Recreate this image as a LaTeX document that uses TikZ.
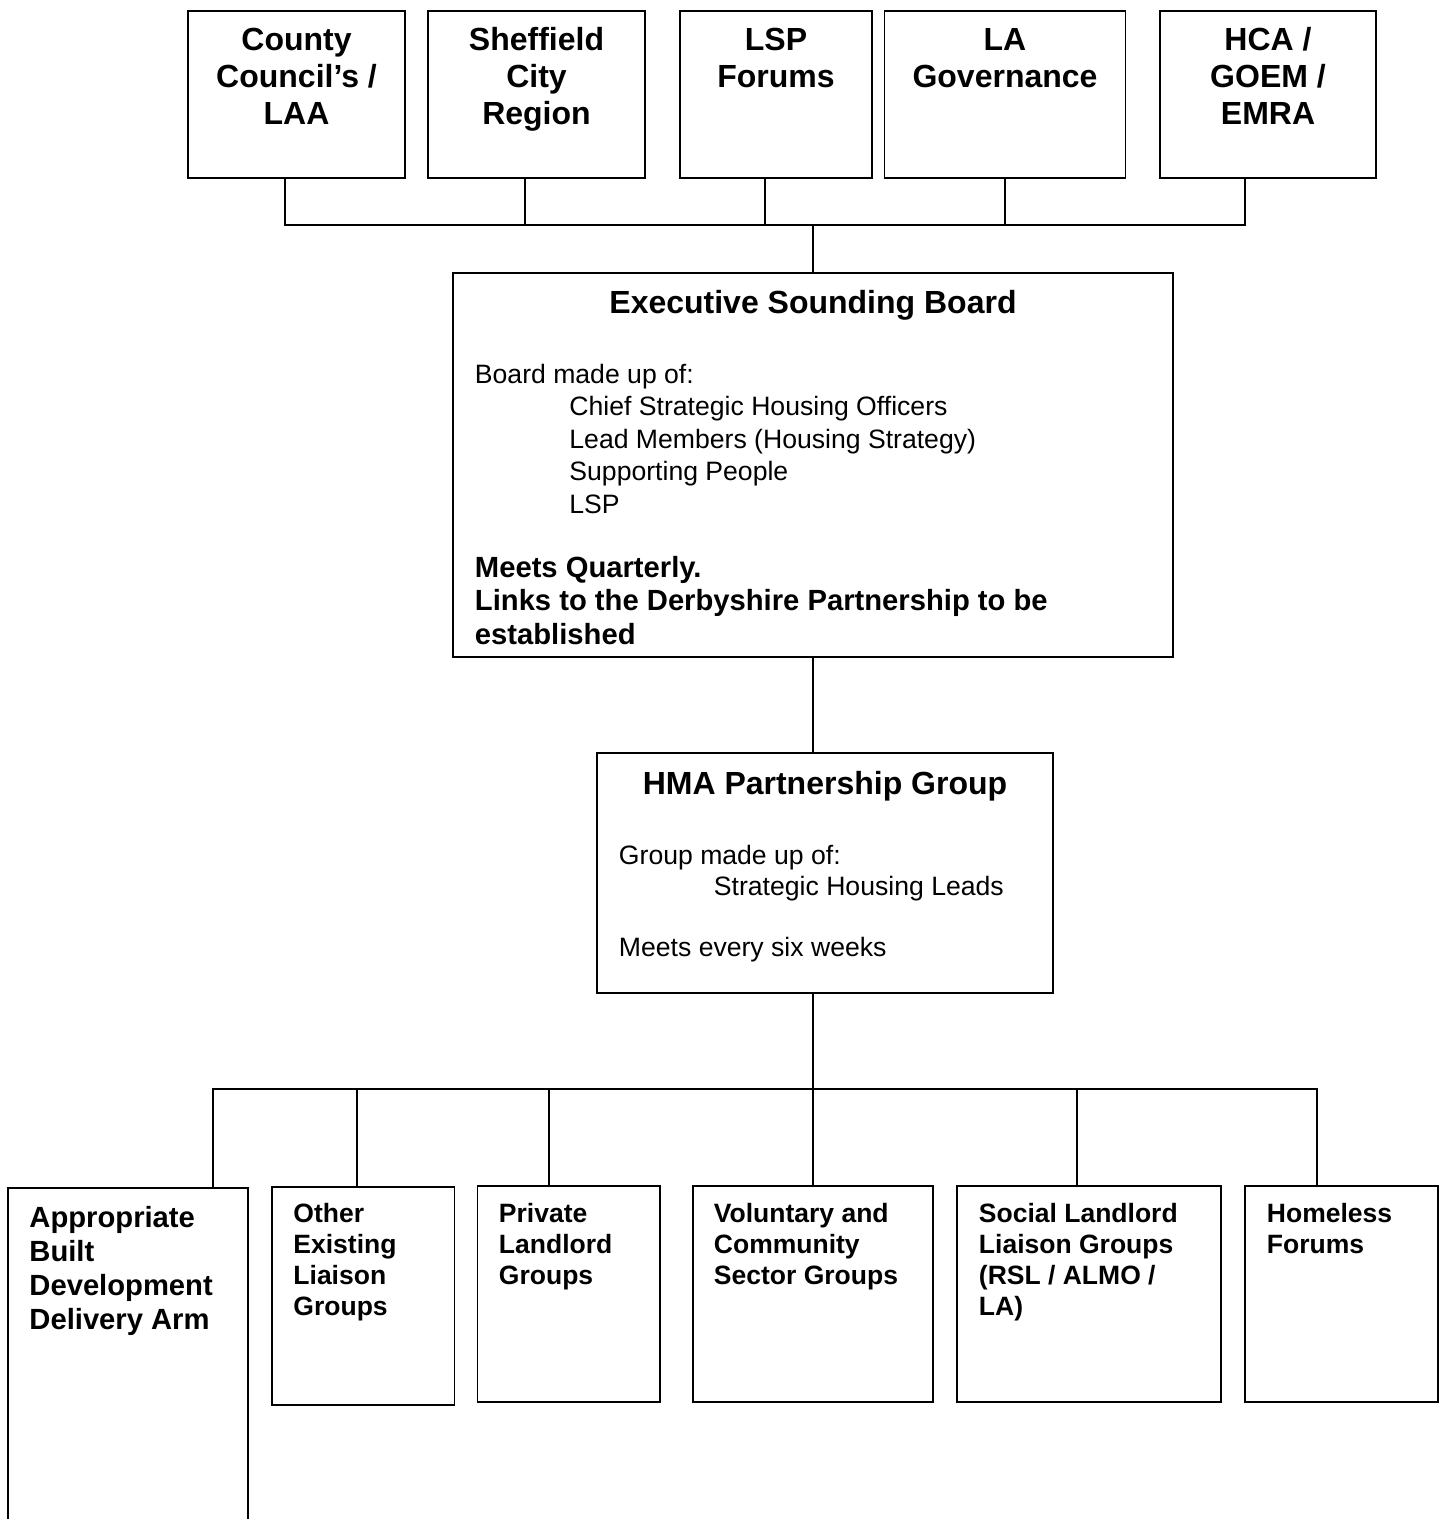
\documentclass[tikz,border=0pt]{standalone}
\usepackage{fontspec}
\setmainfont{Liberation Sans}

\begin{document}
\begin{tikzpicture}[x=0.5pt,y=-0.5pt,line width=0.95pt,
  box/.style={draw,inner sep=0pt,minimum height=83.5pt},
  lowbox/.style={draw,inner sep=0pt,minimum height=108pt},
  toptext/.style={inner sep=0pt,anchor=base,align=center,font=\bfseries\fontsize{16pt}{18.5pt}\selectfont},
  headtext/.style={inner sep=0pt,anchor=base,font=\bfseries\fontsize{16pt}{18.5pt}\selectfont},
  bodytext/.style={inner sep=0pt,anchor=base west,align=left,font=\fontsize{13.3pt}{16.25pt}\selectfont},
  notetext/.style={inner sep=0pt,anchor=base west,align=left,font=\bfseries\fontsize{14.6pt}{16.7pt}\selectfont},
  lowtext/.style={inner sep=0pt,anchor=base west,align=left,font=\bfseries\fontsize{13.25pt}{15.5pt}\selectfont}]
\useasboundingbox (0,0) rectangle (1444,1519);
\clip (0,0) rectangle (1444,1519);

% top row (text nodes sit on the baseline of their last line)
\node[box,minimum width=108.5pt] (cc) at (296.5,94.5) {};
\node[box,minimum width=108.5pt] (scr) at (536.5,94.5) {};
\node[box,minimum width=96pt] (lsp) at (776,94.5) {};
\node[box,minimum width=120.5pt] (lag) at (1005,94.5) {};
\node[box,minimum width=108pt] (hca) at (1268,94.5) {};
\node[toptext] (cctxt) at (296.5,125) {County\\Council’s /\\LAA};
\node[toptext] (scrtxt) at (536.5,125) {Sheffield\\City\\Region};
\node[toptext] (lsptxt) at (776,88) {LSP\\Forums};
\node[toptext] (lagtxt) at (1005,88) {LA\\Governance};
\node[toptext] (hcatxt) at (1268,125) {HCA /\\GOEM /\\EMRA};

% executive board
\node[draw,inner sep=0pt,minimum width=360pt,minimum height=192pt] (esb) at (813,465) {};
\node[headtext] (esbhead) at (813,314) {Executive Sounding Board};
\node[bodytext] (esbbody) at (474,513) {Board made up of:\\
  \hspace*{47.25pt}Chief Strategic Housing Officers\\
  \hspace*{47.25pt}Lead Members (Housing Strategy)\\
  \hspace*{47.25pt}Supporting People\\
  \hspace*{47.25pt}LSP};
\node[notetext] (esbnote) at (474,644) {Meets Quarterly.\\
  Links to the Derbyshire Partnership to be\\
  established};

% partnership group
\node[draw,inner sep=0pt,minimum width=228pt,minimum height=120pt] (hma) at (825,873) {};
\node[headtext] (hmahead) at (825,794) {HMA Partnership Group};
\node[bodytext,font=\fontsize{13.3pt}{15.5pt}\selectfont] (hmabody) at (618,895) {Group made up of:\\
  \hspace*{47.5pt}Strategic Housing Leads};
\node[bodytext] (hmameet) at (618,956) {Meets every six weeks};

% bottom row
\node[draw,inner sep=0pt,minimum width=120pt,minimum height=216pt] (abd) at (128,1404) {};
\node[lowbox,minimum width=91.25pt,minimum height=109pt] (oel) at (363.25,1296) {};
\node[lowbox,minimum width=91.25pt] (pl) at (568.75,1294) {};
\node[lowbox,minimum width=120pt] (vcs) at (813,1294) {};
\node[lowbox,minimum width=132pt] (sll) at (1089,1294) {};
\node[lowbox,minimum width=96.5pt] (hf) at (1341.5,1294) {};
\node[notetext,font=\bfseries\fontsize{14.6pt}{16.85pt}\selectfont] (abdtxt) at (28.5,1329) {Appropriate\\Built\\Development\\Delivery Arm};
\node[lowtext] (oeltxt) at (292.5,1315) {Other\\Existing\\Liaison\\Groups};
\node[lowtext] (pltxt) at (498,1284) {Private\\Landlord\\Groups};
\node[lowtext] (vcstxt) at (713,1284) {Voluntary and\\Community\\Sector Groups};
\node[lowtext] (slltxt) at (978,1315) {Social Landlord\\Liaison Groups\\(RSL / ALMO /\\LA)};
\node[lowtext] (hftxt) at (1266,1253) {Homeless\\Forums};

% links
\coordinate (topbus) at (813,225);
\draw ([xshift=-5.75pt]cc.south) |- (topbus);
\draw ([xshift=-5.75pt]scr.south) |- (topbus);
\draw ([xshift=-5.5pt]lsp.south) |- (topbus);
\draw (lag.south) |- (topbus);
\draw ([xshift=-11.5pt]hca.south) |- (topbus);
\draw (topbus) -- (esb.north);
\draw (esb.south) -- (esb.south |- hma.north);
\coordinate (lowbus) at (813,1089);
\draw (esb.south |- hma.south) -- (lowbus);
\draw (lowbus) -| ([xshift=42.5pt]abd.north);
\draw (lowbus) -| ([xshift=-3pt]oel.north);
\draw (lowbus) -| ([xshift=-9.9pt]pl.north);
\draw (lowbus) -- (vcs.north);
\draw (lowbus) -| ([xshift=-6pt]sll.north);
\draw (lowbus) -| ([xshift=-12.25pt]hf.north);
\end{tikzpicture}
\end{document}
